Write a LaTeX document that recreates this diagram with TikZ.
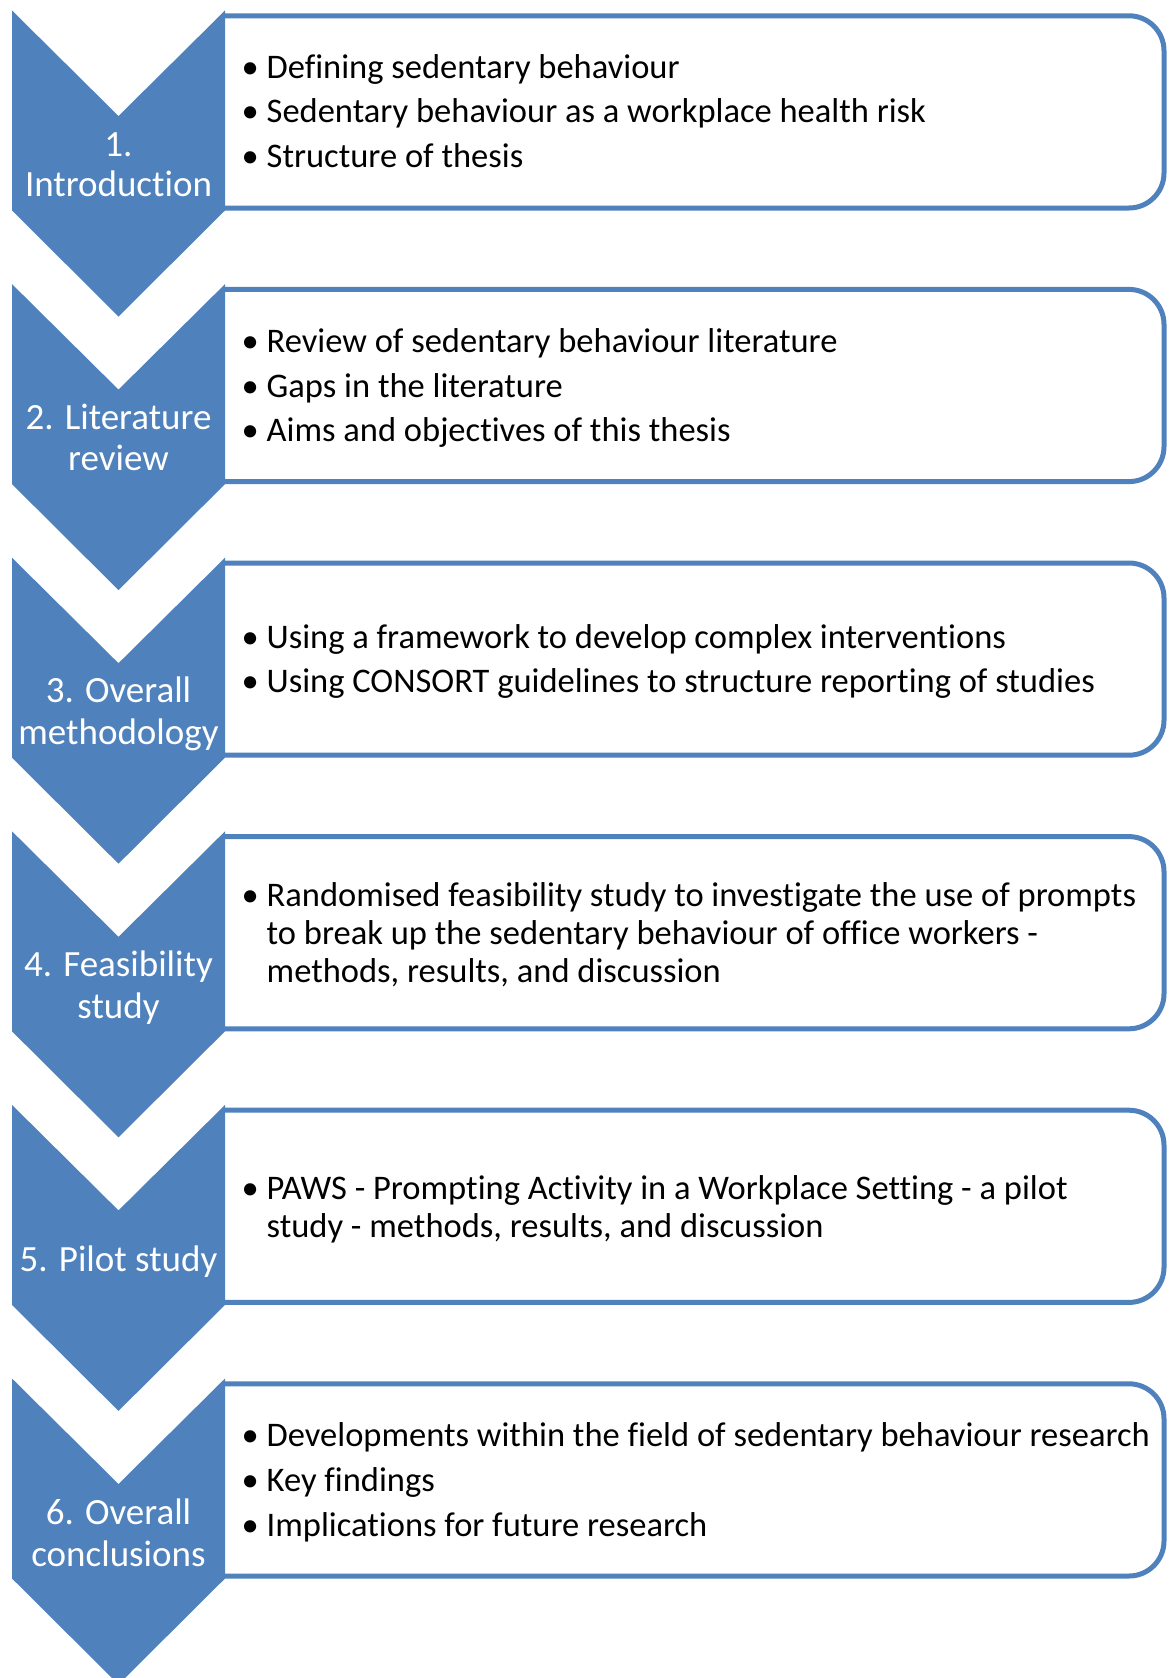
\documentclass[tikz,border=0pt]{standalone}
\usepackage{fontspec}
\setmainfont{Carlito}[Ligatures=CommonOff]
\definecolor{accent}{HTML}{4F81BD}
\newcommand\bul{\makebox[25pt][l]{\textbullet}}
\begin{document}
\begin{tikzpicture}[x=1pt,y=-1pt,
  panel/.style={draw=accent, line width=5pt, rounded corners=35pt},
  chev/.style={fill=accent},
  lbl/.style={anchor=base, text=white, inner sep=0pt, font=\fontsize{37}{40}\selectfont},
  itm/.style={anchor=base west, inner sep=0pt, text=black, font=\fontsize{34.5}{44}\selectfont},
]
\useasboundingbox (0,0) rectangle (1171,1678);

% content panels: open on the left, where they meet the chevrons
\foreach \k in {0,...,5}{
  \pgfmathsetmacro\T{15.8+273.6*\k}
  \fill[white, rounded corners=35pt] (225,\T) -- (1164,\T) -- (1164,\T+192.2) -- (225,\T+192.2) -- cycle;
  \draw[panel] (225,\T) -- (1164,\T) -- (1164,\T+192.2) -- (225,\T+192.2);
}

% chevrons
\foreach \k in {0,...,5}{
  \pgfmathsetmacro\T{10.5+273.6*\k}
  \fill[chev] (12,\T) -- (118.5,\T+105.5) -- (225,\T) -- (225,\T+200)
     -- (118.5,\T+306) -- (12,\T+200) -- cycle;
}

% chapter labels
\node[lbl] (l1a) at (118.5,156.4) {1.};
\node[lbl] (l1b) at (118.5,196) {Introduction};
\node[lbl] (l2a) at (118.5,429.4) {2. Literature};
\node[lbl] (l2b) at (118.5,470) {review};
\node[lbl] (l3a) at (118.5,702.3) {3. Overall};
\node[lbl] (l3b) at (118.5,744.1) {methodology};
\node[lbl] (l4a) at (118.5,976.3) {4. Feasibility};
\node[lbl] (l4b) at (118.5,1018.1) {study};
\node[lbl] (l5a) at (118.5,1271.8) {5. Pilot study};
\node[lbl] (l6a) at (118.5,1524.4) {6. Overall};
\node[lbl] (l6b) at (118.5,1566.1) {conclusions};

% chapter contents
\node[itm] (i1a) at (241.5,78) {\bul Defining sedentary behaviour};
\node[itm] (i1b) at (241.5,122.5) {\bul Sedentary behaviour as a workplace health risk};
\node[itm] (i1c) at (241.5,167) {\bul Structure of thesis};

\node[itm] (i2a) at (241.5,352.5) {\bul Review of sedentary behaviour literature};
\node[itm] (i2b) at (241.5,397) {\bul Gaps in the literature};
\node[itm] (i2c) at (241.5,441) {\bul Aims and objectives of this thesis};

\node[itm] (i3a) at (241.5,648.2) {\bul Using a framework to develop complex interventions};
\node[itm] (i3b) at (241.5,692.4) {\bul Using CONSORT guidelines to structure reporting of studies};

\node[itm] (i4a) at (241.5,906.4) {\bul Randomised feasibility study to investigate the use of prompts};
\node[itm] (i4b) at (266.5,944.9) {to break up the sedentary behaviour of office workers -};
\node[itm] (i4c) at (266.5,982.3) {methods, results, and discussion};

\node[itm] (i5a) at (241.5,1199.7) {\bul PAWS - Prompting Activity in a Workplace Setting - a pilot};
\node[itm] (i5b) at (266.5,1237.1) {study - methods, results, and discussion};

\node[itm] (i6a) at (241.5,1446.9) {\bul Developments within the field of sedentary behaviour research};
\node[itm] (i6b) at (241.5,1491.9) {\bul Key findings};
\node[itm] (i6c) at (241.5,1536.8) {\bul Implications for future research};
\end{tikzpicture}
\end{document}
